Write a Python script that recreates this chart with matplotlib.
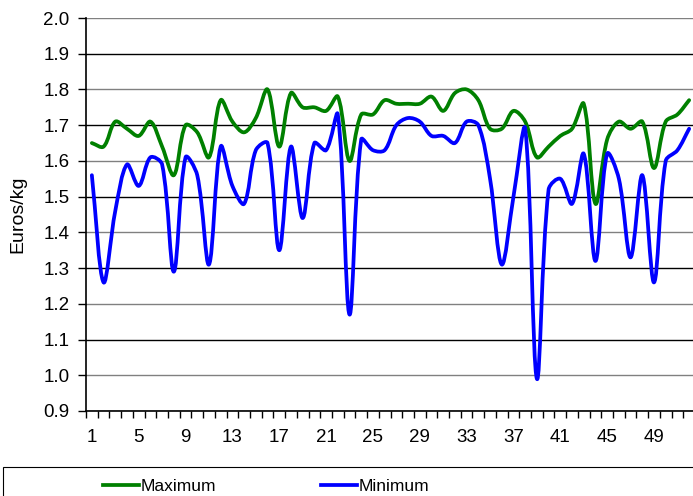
import matplotlib
matplotlib.use("Agg")
import matplotlib.pyplot as plt
import numpy as np
from matplotlib.path import Path
from matplotlib.patches import PathPatch, Rectangle
from matplotlib.lines import Line2D

plt.rcParams['font.family'] = ['Liberation Sans', 'DejaVu Sans']

weeks = list(range(1, 53))
maximum = [1.65, 1.64, 1.71, 1.69, 1.67, 1.71, 1.64, 1.56, 1.70, 1.68,
           1.61, 1.77, 1.71, 1.68, 1.72, 1.80, 1.64, 1.79, 1.75, 1.75,
           1.74, 1.78, 1.60, 1.73, 1.73, 1.77, 1.76, 1.76, 1.76, 1.78,
           1.74, 1.79, 1.80, 1.77, 1.69, 1.69, 1.74, 1.71, 1.61, 1.64,
           1.67, 1.69, 1.76, 1.48, 1.66, 1.71, 1.69, 1.71, 1.58, 1.71,
           1.73, 1.77]
minimum = [1.56, 1.26, 1.46, 1.59, 1.53, 1.61, 1.59, 1.29, 1.61, 1.56,
           1.31, 1.64, 1.53, 1.48, 1.63, 1.65, 1.35, 1.64, 1.44, 1.65,
           1.63, 1.73, 1.17, 1.66, 1.63, 1.63, 1.70, 1.72, 1.71, 1.67,
           1.67, 1.65, 1.71, 1.70, 1.55, 1.31, 1.50, 1.69, 0.99, 1.52,
           1.55, 1.48, 1.62, 1.32, 1.62, 1.55, 1.33, 1.56, 1.26, 1.60,
           1.63, 1.69]
series_names = ["Maximum", "Minimum"]
xtick_labels = [1, 5, 9, 13, 17, 21, 25, 29, 33, 37, 41, 45, 49]

# approximate screen scale (px per data unit) used only for smoothing weights
SX, SY = 11.71, 357.3


def smooth_path(x, y):
    """Excel-like smoothed line as cubic Bezier segments with
    length-weighted Catmull-Rom tangents (limits overshoot)."""
    x = np.asarray(x, float)
    y = np.asarray(y, float)
    n = len(x)
    P = np.column_stack([x, y])

    def dist(a, b):
        return np.hypot((a[0] - b[0]) * SX, (a[1] - b[1]) * SY)

    verts = [tuple(P[0])]
    codes = [Path.MOVETO]
    t = 1.0 / 3.0
    for i in range(n - 1):
        p0 = P[i - 1] if i > 0 else P[i]
        p1 = P[i]
        p2 = P[i + 1]
        p3 = P[i + 2] if i + 2 < n else P[i + 1]
        d01, d12, d23 = dist(p0, p1), dist(p1, p2), dist(p2, p3)
        f1 = t * d12 / (d01 + d12) if (d01 + d12) > 0 else 0
        f2 = t * d12 / (d12 + d23) if (d12 + d23) > 0 else 0
        c1 = p1 + (p2 - p0) * f1
        c2 = p2 - (p3 - p1) * f2
        verts += [tuple(c1), tuple(c2), tuple(p2)]
        codes += [Path.CURVE4] * 3
    return Path(verts, codes)


fig = plt.figure(figsize=(6.93, 4.96), dpi=100)
ax = fig.add_axes([86 / 693, 1 - 411 / 496, (695 - 86) / 693, (411 - 18) / 496])

for val in np.arange(0.9, 2.01, 0.1):
    ax.axhline(val, color='#808080' if round(val * 10) % 2 == 0 else 'black',
               lw=1.0, zorder=1)

colors = ['#008000', '#0000FF']
for data, c in zip([maximum, minimum], colors):
    p = PathPatch(smooth_path(weeks, data), facecolor='none', edgecolor=c,
                  lw=2.7, zorder=3, capstyle='round', joinstyle='round')
    ax.add_patch(p)

ax.set_xlim(0.5, 52.5)
ax.set_ylim(0.9, 2.0)
ax.set_yticks(np.arange(0.9, 2.01, 0.1))
ax.set_yticklabels([f"{v:.1f}" for v in np.arange(0.9, 2.01, 0.1)])
ax.set_xticks(xtick_labels)
ax.set_xticklabels([str(v) for v in xtick_labels])
ax.set_xticks(np.arange(0.5, 53, 1), minor=True)
ax.tick_params(axis='x', which='major', length=0, pad=13, labelsize=13.5)
ax.tick_params(axis='x', which='minor', length=5, direction='out', width=1)
ax.tick_params(axis='y', length=6, direction='out', width=1, labelsize=13.5, pad=6)

for s in ['top', 'right']:
    ax.spines[s].set_visible(False)
ax.spines['left'].set_linewidth(1.2)
ax.spines['bottom'].set_linewidth(1.2)
ax.set_ylabel("Euros/kg", fontsize=14, labelpad=12)

# legend box
fig.patches.append(Rectangle((3 / 693, -0.05), 1.0, (496 - 467) / 496 + 0.05,
                             transform=fig.transFigure, facecolor='white',
                             edgecolor='black', lw=0.8))
handles = [Line2D([], [], color=c, lw=2.7) for c in colors]
fig.legend(handles, series_names, loc='center', bbox_to_anchor=(266 / 693, 1 - 486 / 496),
           ncol=2, frameon=False, fontsize=12.5, handlelength=2.1,
           handletextpad=0.1, columnspacing=6.0)

fig.savefig("out.png", dpi=100)
